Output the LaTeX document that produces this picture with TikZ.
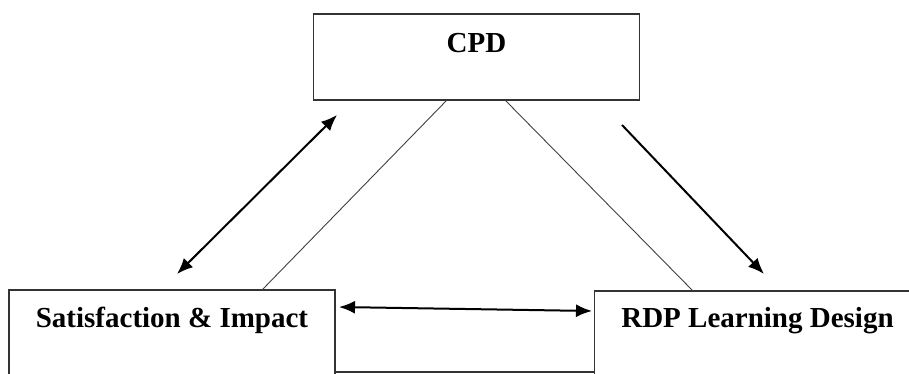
\documentclass[tikz,border=0pt]{standalone}
\usepackage{fontspec}
\setmainfont{Liberation Serif}
\usetikzlibrary{arrows.meta}
\tikzstyle{box}=[draw=black!80,line width=0.8pt,rectangle,minimum width=163pt,inner ysep=0pt,outer sep=0pt,anchor=north,font=\bfseries\fontsize{14.5}{17}\selectfont]
\tikzstyle{link}=[line width=1pt,>={Latex[length=8pt,width=6.5pt]}]
\tikzstyle{thin}=[black!75,line width=0.45pt]

\begin{document}
\begin{tikzpicture}[x=0.5pt,y=-0.5pt]
\clip (0,0) rectangle (909,374);
\node[box,text height=19.5pt,text depth=23.5pt] (cpd) at (476.5,14) {CPD};
\node[box,text height=18.5pt,text depth=30pt] (satisfaction) at (172,290) {Satisfaction \& Impact};
\node[box,text height=18pt,text depth=30pt] (rdp) at (757.5,291) {RDP Learning Design};

\coordinate (cpd-left) at (447,100);
\coordinate (cpd-right) at (505,100);
\coordinate (sat-top) at (262,290);
\coordinate (rdp-top) at (693,291);
\coordinate (sat-foot) at (335,372);
\coordinate (rdp-foot) at (595,372);

\coordinate (up-a) at (177,274);
\coordinate (up-b) at (337,115);
\coordinate (down-a) at (622,125);
\coordinate (down-b) at (764,274);
\coordinate (mid-a) at (339,307);
\coordinate (mid-b) at (592,311);

\draw[thin] (cpd-left)--(sat-top);
\draw[thin] (cpd-right)--(rdp-top);
\draw[black!80,line width=0.9pt] (sat-foot)--(rdp-foot);

\draw[link,<->] (up-a)--(up-b);
\draw[link,->] (down-a)--(down-b);
\draw[link,<->] (mid-a)--(mid-b);
\end{tikzpicture}
\end{document}
